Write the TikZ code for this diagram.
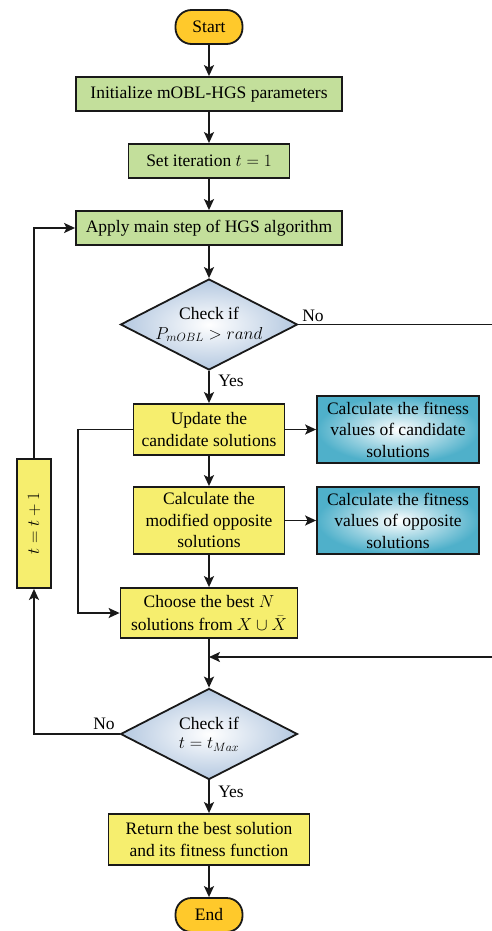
\documentclass[tikz,border=0pt]{standalone}
\usepackage{fontspec}
\setmainfont{Liberation Serif}
\usetikzlibrary{shapes.geometric,arrows.meta,shadings}
\definecolor{termc}{HTML}{FFC92B}
\definecolor{greenc}{HTML}{C3DF9B}
\definecolor{yellowc}{HTML}{F6EE6E}
\definecolor{diac}{HTML}{B4C8E0}
\definecolor{bluec}{HTML}{4FB0CA}
\tikzset{
  base/.style={draw=black!90, line width=1.8pt, inner sep=0pt, align=center,
    font=\fontsize{17.5}{21.5}\selectfont},
  term/.style={base, fill=termc, rounded corners=16pt, minimum width=67pt, minimum height=34pt},
  greenbox/.style={base, fill=greenc, minimum height=34pt},
  yellowbox/.style={base, fill=yellowc},
  bluebox/.style={base, inner color=white, outer color=bluec, minimum width=162pt, minimum height=67pt},
  decide/.style={base, diamond, inner color=white, outer color=diac, minimum width=177pt, minimum height=91pt, aspect=1.95},
  conn/.style={line width=1.8pt, draw=black!90},
  arr/.style={conn, -{Stealth[length=11pt,width=10pt,inset=2.5pt]}},
  lab/.style={font=\fontsize{17.5}{21.5}\selectfont, inner sep=0pt}
}
\begin{document}
\begin{tikzpicture}[x=1pt,y=-1pt]
\useasboundingbox (0,0) rectangle (491,931);
\node[term] (start) at (209,27) {Start};
\node[greenbox, minimum width=266pt] (init) at (209,94) {Initialize mOBL-HGS parameters};
\node[greenbox, minimum width=161pt] (setit) at (209,161) {Set iteration $t=1$};
\node[greenbox, minimum width=266pt] (apply) at (209,228) {Apply main step of HGS algorithm};
\node[decide] (d1) at (209,324.5) {Check if\\[-2pt] $P_{mOBL} > rand$};
\node[yellowbox, minimum width=151pt, minimum height=51pt] (upd) at (209,429.5) {Update the\\ candidate solutions};
\node[bluebox] (fit1) at (398,429.5) {Calculate the fitness\\ values of candidate\\ solutions};
\node[yellowbox, minimum width=151pt, minimum height=67pt] (mod) at (209,520.5) {Calculate the\\ modified opposite\\ solutions};
\node[bluebox] (fit2) at (398,520.5) {Calculate the fitness\\ values of opposite\\ solutions};
\node[yellowbox, minimum width=177pt, minimum height=50pt] (choose) at (209,613) {Choose the best $N$\\[1pt] solutions from $X\cup\bar{X}$};
\node[decide] (d2) at (209,734) {Check if\\[-2pt] $t=t_{Max}$};
\node[yellowbox, minimum width=201pt, minimum height=51pt] (ret) at (209,839.5) {Return the best solution\\ and its fitness function};
\node[term] (end) at (209,915) {End};
\node[yellowbox, minimum width=34pt, minimum height=129pt] (tt) at (34,523.5) {\rotatebox{90}{$t=t+1$}};

\coordinate (noend) at (492,324.5);
\coordinate (mergein) at (492,657);
\coordinate (merge) at (209,657);
\coordinate (byl1) at (78,429.5);
\coordinate (byl2) at (78,613);
\coordinate (lpd) at (34,734);
\coordinate (lpu) at (34,228);

\draw[arr] (start) -- (init);
\draw[arr] (init) -- (setit);
\draw[arr] (setit) -- (apply);
\draw[arr] (apply) -- (d1);
\draw[conn] (d1.east) -- (noend);
\node[lab] (no1) at (313,316) {No};
\draw[arr] (d1) -- (upd);
\node[lab] (yes1) at (231,381) {Yes};
\draw[arr] (upd) -- (fit1);
\draw[arr] (upd) -- (mod);
\draw[arr] (mod) -- (fit2);
\draw[arr] (mod) -- (choose);
\draw[arr] (upd.west) -- (byl1) -- (byl2) -- (choose.west);
\draw[arr] (choose) -- (d2);
\draw[arr] (mergein) -- (merge);
\draw[arr] (d2.west) -- (lpd) -- (tt.south);
\node[lab] (no2) at (104,724) {No};
\draw[arr] (tt.north) -- (lpu) -- (apply.west);
\draw[arr] (d2) -- (ret);
\node[lab] (yes2) at (231,792) {Yes};
\draw[arr] (ret) -- (end);
\end{tikzpicture}
\end{document}
